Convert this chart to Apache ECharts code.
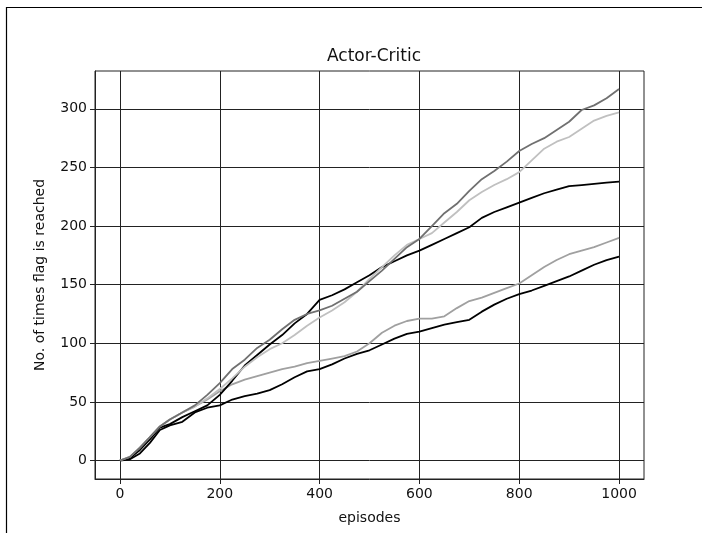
<!DOCTYPE html>
<html>
<head>
<meta charset="utf-8">
<script src="https://cdn.jsdelivr.net/npm/echarts@6/dist/echarts.min.js"></script>
<style>
html,body{margin:0;padding:0;background:#fff;}
#c{width:702px;height:533px;}
</style>
</head>
<body>
<div id="c"></div>
<script>
const episodes = [0,20,40,60,80,100,125,150,175,200,225,250,275,300,325,350,375,400,425,450,475,500,525,550,575,600,625,650,675,700,725,750,775,800,825,850,875,900,925,950,975,1000];
const runA = [0,3,11,20,29,35,41,47,56,66,78,86,96,103,112,120,125,128,132,138,144,153,162,172,182,189,200,211,219,230,240,247,255,264,270,275,282,289,299,303,309,317];
const runB = [0,3,11,20,29,35,41,46,53,61,70,80,88,95,100,107,115,122,128,135,144,155,165,175,184,189,194,203,212,222,229,235,240,246,256,266,272,276,283,290,294,297];
const runC = [0,2,9,18,28,31,37,42,47,56,68,81,90,99,107,117,125,137,141,146,152,158,165,170,175,179,184,189,194,199,207,212,216,220,224,228,231,234,235,236,237,238];
const runD = [0,3,11,20,29,35,41,46,52,59,65,69,72,75,78,80,83,85,87,89,93,100,109,115,119,121,121,123,130,136,139,143,147,151,158,165,171,176,179,182,186,190];
const runE = [0,1,6,15,26,30,33,41,45,47,52,55,57,60,65,71,76,78,82,87,91,94,99,104,108,110,113,116,118,120,127,133,138,142,145,149,153,157,162,167,171,174];
const xTicks = [0,200,400,600,800,1000];
const yTicks = [0,50,100,150,200,250,300];
const titleText = 'Actor-Critic';
const xName = 'episodes';
const yName = 'No. of times flag is reached';

const runs = [
  {data: runE, color: '#000000'},
  {data: runD, color: '#a0a0a0'},
  {data: runC, color: '#000000'},
  {data: runB, color: '#c0c0c0'},
  {data: runA, color: '#707070'}
];

const chart = echarts.init(document.getElementById('c'), null, {renderer: 'canvas'});
const font = 'DejaVu Sans';
const axisCol = '#222';
chart.setOption({
  animation: false,
  backgroundColor: '#fff',
  title: {
    text: titleText, left: 369, top: 43, textAlign: 'center',
    textStyle: {fontFamily: font, fontSize: 17, fontWeight: 'normal', color: '#111'}
  },
  grid: {left: 95, right: 58, top: 71, bottom: 54, show: true, borderColor: axisCol, borderWidth: 1, containLabel: false},
  xAxis: {
    type: 'value', min: -50, max: 1050,
    name: xName, nameLocation: 'middle', nameGap: 32,
    nameTextStyle: {fontFamily: font, fontSize: 14, color: '#111'},
    axisLine: {show: true, onZero: false, lineStyle: {color: axisCol, width: 1}},
    axisTick: {show: true, length: 5, customValues: xTicks, lineStyle: {color: axisCol}},
    axisLabel: {customValues: xTicks, formatter: v => String(v), fontFamily: font, fontSize: 14, color: '#111', margin: 8},
    splitLine: {show: true, lineStyle: {color: '#222', width: 1}}
  },
  yAxis: {
    type: 'value', min: -15.8, max: 332.3,
    name: yName, nameLocation: 'middle', nameGap: 48,
    nameTextStyle: {fontFamily: font, fontSize: 14, color: '#111'},
    axisLine: {show: true, onZero: false, lineStyle: {color: axisCol, width: 1}},
    axisTick: {show: true, length: 5, customValues: yTicks, lineStyle: {color: axisCol}},
    axisLabel: {customValues: yTicks, formatter: v => String(v), fontFamily: font, fontSize: 14, color: '#111', margin: 8},
    splitLine: {show: true, lineStyle: {color: '#222', width: 1}}
  },
  series: runs.map(r => ({
    type: 'line',
    data: episodes.map((e, i) => [e, r.data[i]]),
    showSymbol: false, symbol: 'none',
    lineStyle: {color: r.color, width: 1.8},
    itemStyle: {color: r.color}
  })),
  graphic: [
    {type: 'polyline', shape: {points: [[6.5, 533], [6.5, 7.5], [702, 7.5]]}, style: {stroke: '#000', lineWidth: 1.2, fill: null}}
  ]
});
</script>
</body>
</html>
